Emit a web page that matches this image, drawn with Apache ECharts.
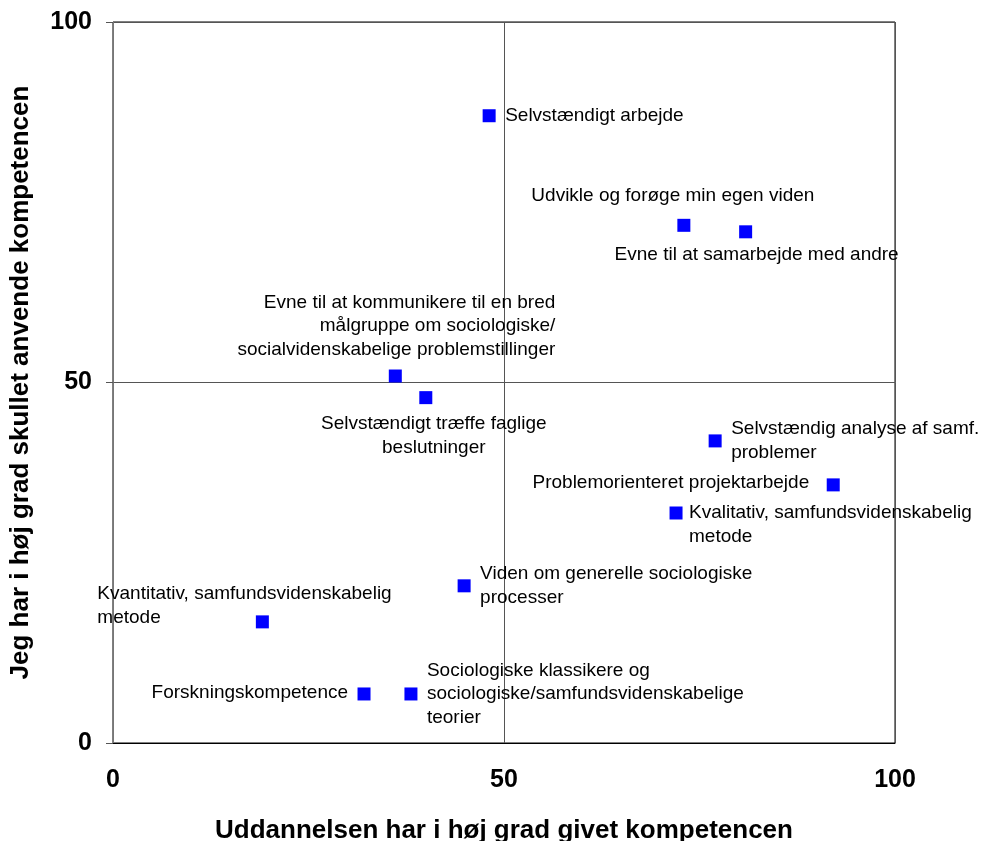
<!DOCTYPE html>
<html lang="da">
<head>
    <meta charset="UTF-8"/>
    <script type="text/javascript" src="https://cdn.jsdelivr.net/npm/echarts@6/dist/echarts.min.js"></script>
    <title>Kompetencer</title>
    <style>
        html, body { margin: 0; padding: 0; background: #fff; }
        #main { width: 981px; height: 841px; }
    </style>
</head>
<body>
<div id="main"></div>
<script type="text/javascript">
    // kompetencer (labels as shown in the chart)
    var names = [
        'Selvstændigt arbejde',
        'Udvikle og forøge min egen viden',
        'Evne til at samarbejde med andre',
        'Evne til at kommunikere til en bred\nmålgruppe om sociologiske/\nsocialvidenskabelige problemstillinger',
        'Selvstændigt træffe faglige\nbeslutninger',
        'Selvstændig analyse af samf.\nproblemer',
        'Problemorienteret projektarbejde',
        'Kvalitativ, samfundsvidenskabelig\nmetode',
        'Viden om generelle sociologiske\nprocesser',
        'Kvantitativ, samfundsvidenskabelig\nmetode',
        'Forskningskompetence',
        'Sociologiske klassikere og\nsociologiske/samfundsvidenskabelige\nteorier'
    ]
    // x: uddannelsen har givet kompetencen, y: skullet anvende kompetencen
    var givet = [48.1, 73.0, 80.9, 36.1, 40.0, 77.0, 92.1, 72.0, 44.9, 19.1, 32.1, 38.1]
    var anvende = [87.0, 71.8, 70.9, 50.9, 47.9, 41.9, 35.8, 31.9, 21.8, 16.8, 6.8, 6.8]
    var axisTicks = [0, 50, 100]

    // label placement per point: [dx, dy, align]
    var labelPlace = [
        [16, 0, 'left'],
        [-11, -30, 'center'],
        [11, 23, 'center'],
        [160, -50, 'right'],
        [8, 38, 'center'],
        [16, 0, 'left'],
        [-24, -2, 'right'],
        [13, 12, 'left'],
        [16, 0, 'left'],
        [-165, -16, 'left'],
        [-16, -1, 'right'],
        [16, 0, 'left']
    ]

    var font = 'Liberation Sans, Arial, sans-serif'
    var points = []
    for (var i = 0; i < names.length; i++) {
        var p = labelPlace[i]
        points.push({
            name: names[i],
            value: [givet[i], anvende[i]],
            label: {
                position: ['50%', '50%'],
                offset: [p[0], p[1]],
                align: p[2],
                verticalAlign: 'middle'
            }
        })
    }

    var myChart = echarts.init(document.getElementById('main'))
    var option = {
        animation: false,
        backgroundColor: '#fff',
        grid: {
            left: 113, right: 86, top: 22, bottom: 98,
            outerBoundsMode: 'none',
            containLabel: false,
            show: true, borderColor: '#000', borderWidth: 1
        },
        xAxis: {
            type: 'value',
            min: axisTicks[0], max: axisTicks[2], interval: 50,
            name: 'Uddannelsen har i høj grad givet kompetencen',
            nameLocation: 'middle',
            nameGap: 75,
            nameTextStyle: { fontFamily: font, fontWeight: 'bold', fontSize: 26, color: '#000' },
            axisLine: { show: true, lineStyle: { color: '#000', width: 1 } },
            axisTick: { show: false },
            axisLabel: { margin: 25, fontFamily: font, fontWeight: 'bold', fontSize: 25, color: '#000' },
            splitLine: { show: true, lineStyle: { color: '#555', width: 1 } }
        },
        yAxis: {
            type: 'value',
            min: axisTicks[0], max: axisTicks[2], interval: 50,
            name: 'Jeg har i høj grad skullet anvende kompetencen',
            nameLocation: 'middle',
            nameGap: 79,
            nameTextStyle: { fontFamily: font, fontWeight: 'bold', fontSize: 26, color: '#000' },
            axisLine: { show: true, lineStyle: { color: '#777', width: 1 } },
            axisTick: { show: true, length: 7, lineStyle: { color: '#555' } },
            axisLabel: { margin: 21, fontFamily: font, fontWeight: 'bold', fontSize: 25, color: '#000' },
            splitLine: { show: true, lineStyle: { color: '#555', width: 1 } }
        },
        series: [{
            type: 'scatter',
            symbol: 'rect',
            symbolSize: 13,
            itemStyle: { color: '#0000ff', opacity: 1 },
            label: {
                show: true,
                formatter: '{b}',
                fontFamily: font,
                fontSize: 19,
                lineHeight: 23.5,
                color: '#000'
            },
            emphasis: { disabled: true },
            data: points
        }]
    }
    myChart.setOption(option)
</script>
</body>
</html>
